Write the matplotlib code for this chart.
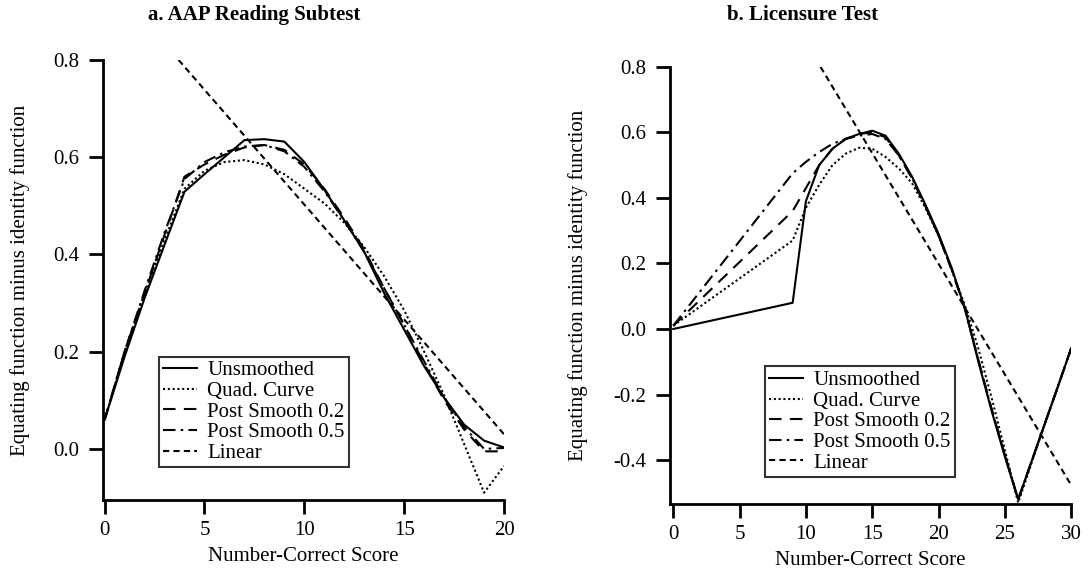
import numpy as np
import matplotlib
matplotlib.use("Agg")
import matplotlib.pyplot as plt
from matplotlib.ticker import FormatStrFormatter

plt.rcParams['font.family'] = ['Liberation Serif', 'DejaVu Serif']
plt.rcParams['axes.unicode_minus'] = False
plt.rcParams['font.size'] = 15

# ---- a. AAP Reading Subtest (scores 0..20) ----
a_x = np.arange(0, 21)
a_unsmoothed = [0.06, 0.19, 0.31, 0.42, 0.529, 0.565, 0.60, 0.635, 0.637, 0.632, 0.59,
                0.533, 0.47, 0.405, 0.32, 0.245, 0.17, 0.105, 0.05, 0.017, 0.003]
a_quad = [0.06, 0.20, 0.32, 0.43, 0.535, 0.572, 0.59, 0.594, 0.585, 0.565, 0.535,
          0.505, 0.465, 0.415, 0.355, 0.285, 0.20, 0.11, 0.01, -0.09, -0.035]
a_post02 = [0.06, 0.20, 0.32, 0.44, 0.56, 0.585, 0.605, 0.62, 0.625, 0.615, 0.585,
            0.535, 0.475, 0.41, 0.33, 0.255, 0.175, 0.10, 0.04, -0.005, -0.005]
a_post05 = [0.06, 0.20, 0.325, 0.445, 0.555, 0.59, 0.61, 0.622, 0.625, 0.612, 0.58,
            0.53, 0.47, 0.405, 0.33, 0.255, 0.18, 0.105, 0.045, 0.0, 0.002]
a_lin_x = [3.7, 20]
a_lin_y = [0.80, 0.03]

# ---- b. Licensure Test (scores 0, 9..30) ----
b_x = [0] + list(range(9, 31))
b_unsmoothed = [0.0, 0.08, 0.39, 0.50, 0.55, 0.58, 0.595, 0.605, 0.59, 0.535, 0.465, 0.38,
                0.29, 0.185, 0.06, -0.10, -0.25, -0.39, -0.52, -0.405, -0.29, -0.175, -0.058]
b_quad = [0.01, 0.27, 0.37, 0.44, 0.50, 0.535, 0.553, 0.55, 0.525, 0.49, 0.445, 0.37,
          0.285, 0.18, 0.07, -0.06, -0.21, -0.37, -0.53, -0.41, -0.29, -0.175, -0.06]
b_post02 = [0.01, 0.36, 0.43, 0.50, 0.55, 0.58, 0.595, 0.60, 0.585, 0.53, 0.46, 0.375,
            0.285, 0.18, 0.06, -0.095, -0.245, -0.385, -0.52, -0.405, -0.29, -0.175, -0.058]
b_post05 = [0.01, 0.475, 0.51, 0.54, 0.565, 0.58, 0.59, 0.595, 0.58, 0.53, 0.46, 0.375,
            0.285, 0.18, 0.06, -0.095, -0.245, -0.385, -0.52, -0.405, -0.29, -0.175, -0.058]
b_lin_x = [11.1, 29.9]
b_lin_y = [0.80, -0.47]

labels = ['Unsmoothed', 'Quad. Curve', 'Post Smooth 0.2', 'Post Smooth 0.5', 'Linear']
styles = ['-', (0, (1, 1.3)), (0, (6, 4)), (0, (6, 2.5, 1.2, 2.5)), (0, (3, 2))]


def panel(ax, x, series, lin_x, lin_y, xlim, ylim, xticks, yticks, leg_pos):
    for y, ls, lab in zip(series, styles[:4], labels[:4]):
        ax.plot(x, y, color='black', linestyle=ls, lw=1.5, label=lab)
    ax.plot(lin_x, lin_y, color='black', linestyle=styles[4], lw=1.5, label=labels[4])
    ax.set_xlim(*xlim)
    ax.set_ylim(*ylim)
    ax.set_xticks(xticks)
    ax.set_yticks(yticks)
    ax.yaxis.set_major_formatter(FormatStrFormatter('%.1f'))
    for s in ['top', 'right']:
        ax.spines[s].set_visible(False)
    for s in ['left', 'bottom']:
        ax.spines[s].set_linewidth(2)
    ax.tick_params(direction='out', length=10, width=2)
    ax.tick_params(axis='y', pad=7)
    ax.tick_params(axis='x', pad=5)
    ax.set_xlabel('Number-Correct Score', labelpad=5)
    ax.set_ylabel('Equating function minus identity function')
    leg = ax.legend(loc='lower left', bbox_to_anchor=leg_pos, frameon=True, fancybox=False,
                    edgecolor='black', handlelength=1.6, handletextpad=0.5,
                    labelspacing=0.05, borderpad=0.2, borderaxespad=0, fontsize=15)
    leg.get_frame().set_linewidth(1.5)
    return ax


fig = plt.figure(figsize=(10.88, 5.76), dpi=100)
ax1 = fig.add_axes([0.0947, 0.132, 0.3686, 0.764])
ax2 = fig.add_axes([0.616, 0.125, 0.3686, 0.759])

panel(ax1, a_x, [a_unsmoothed, a_quad, a_post02, a_post05], a_lin_x, a_lin_y,
      (-0.08, 20), (-0.105, 0.8), [0, 5, 10, 15, 20], [0.0, 0.2, 0.4, 0.6, 0.8],
      (0.14, 0.075))
panel(ax2, b_x, [b_unsmoothed, b_quad, b_post02, b_post05], b_lin_x, b_lin_y,
      (-0.23, 30), (-0.534, 0.8), [0, 5, 10, 15, 20, 25, 30],
      [-0.4, -0.2, 0.0, 0.2, 0.4, 0.6, 0.8], (0.237, 0.062))

ax1.yaxis.set_label_coords(-0.183, 0.5)
ax2.yaxis.set_label_coords(-0.205, 0.5)

fig.text(0.234, 0.974, 'a. AAP Reading Subtest', ha='center', va='center',
         fontsize=15, fontweight='bold')
fig.text(0.738, 0.974, 'b. Licensure Test', ha='center', va='center',
         fontsize=15, fontweight='bold')

fig.savefig('out.png', dpi=100)
